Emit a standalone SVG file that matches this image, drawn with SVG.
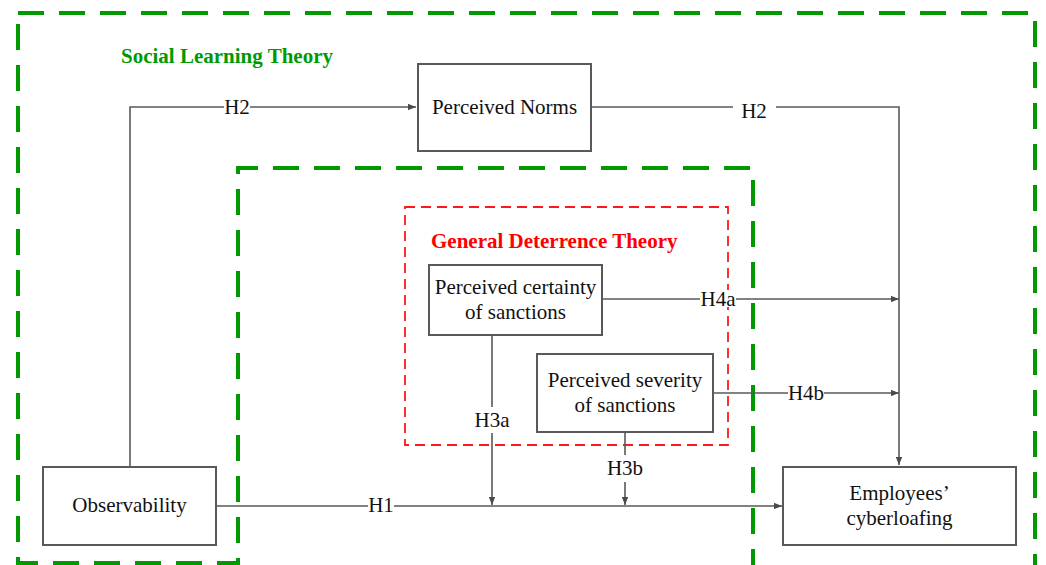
<svg xmlns="http://www.w3.org/2000/svg" width="1046" height="565" viewBox="0 0 1046 565">
<style>
.box{fill:#fff;stroke:#595959;stroke-width:2}
.t{font-family:"Liberation Serif","Times New Roman",serif;font-size:21px;fill:#111;text-anchor:middle}
.ttl{font-family:"Liberation Serif","Times New Roman",serif;font-size:21px;font-weight:bold}
.ln{fill:none;stroke:#595959;stroke-width:1.6}
.bg{fill:#fff}
.green{fill:none;stroke:#009A00;stroke-width:4;stroke-dasharray:26 15}
.red{fill:none;stroke:#FF1A1A;stroke-width:1.8;stroke-dasharray:10 6}
</style>
<defs>
<marker id="arr" viewBox="0 0 10 8" refX="10" refY="4" markerWidth="8" markerHeight="6.4" markerUnits="userSpaceOnUse" orient="auto">
<path d="M0,0 L10,4 L0,8 Z" fill="#4a4a4a"/>
</marker>
</defs>
<rect width="1046" height="565" fill="#fff"/>
<g id="frames">
<path class="green" d="M18,13 H1035 V567 H753 V168 H238 V563 H18 Z"/>
<rect class="red" x="405" y="207" width="323" height="238"/>
<text class="ttl" x="121" y="63" fill="#009A00">Social Learning Theory</text>
<text class="ttl" x="431" y="248" fill="#FF0000">General Deterrence Theory</text>
</g>
<g id="connectors">
<path class="ln" d="M130,467 V107 H416" marker-end="url(#arr)"/>
<path class="ln" d="M591,107 H899 V465" marker-end="url(#arr)"/>
<path class="ln" d="M602,299 H899" marker-end="url(#arr)"/>
<path class="ln" d="M713,393 H899" marker-end="url(#arr)"/>
<path class="ln" d="M216,506 H782" marker-end="url(#arr)"/>
<path class="ln" d="M492,335 V505" marker-end="url(#arr)"/>
<path class="ln" d="M625,432 V505" marker-end="url(#arr)"/>
<rect class="bg" x="224" y="98" width="26" height="18"/>
<text class="t" x="237" y="114">H2</text>
<rect class="bg" x="733" y="98" width="43" height="20"/>
<text class="t" x="754" y="118">H2</text>
<rect class="bg" x="700" y="290" width="36" height="17"/>
<text class="t" x="718" y="306">H4a</text>
<rect class="bg" x="788" y="384" width="36" height="17"/>
<text class="t" x="806" y="400">H4b</text>
<rect class="bg" x="368" y="497" width="26" height="17"/>
<text class="t" x="381" y="512">H1</text>
<rect class="bg" x="474" y="407" width="37" height="26"/>
<text class="t" x="492" y="427">H3a</text>
<rect class="bg" x="606" y="455" width="39" height="27"/>
<text class="t" x="625" y="475">H3b</text>
</g>
<g id="node-norms">
<rect class="box" x="418" y="64" width="173" height="87"/>
<text class="t" x="504.5" y="114">Perceived Norms</text>
</g>
<g id="node-certainty">
<rect class="box" x="429" y="265" width="173" height="70"/>
<text class="t" x="515.5" y="294">Perceived certainty</text>
<text class="t" x="515.5" y="319">of sanctions</text>
</g>
<g id="node-severity">
<rect class="box" x="537" y="354" width="176" height="78"/>
<text class="t" x="625" y="387">Perceived severity</text>
<text class="t" x="625" y="412">of sanctions</text>
</g>
<g id="node-observability">
<rect class="box" x="43" y="467" width="173" height="78"/>
<text class="t" x="129.5" y="512">Observability</text>
</g>
<g id="node-cyberloafing">
<rect class="box" x="783" y="467" width="233" height="78"/>
<text class="t" x="899.5" y="500">Employees’</text>
<text class="t" x="899.5" y="525">cyberloafing</text>
</g>
</svg>
